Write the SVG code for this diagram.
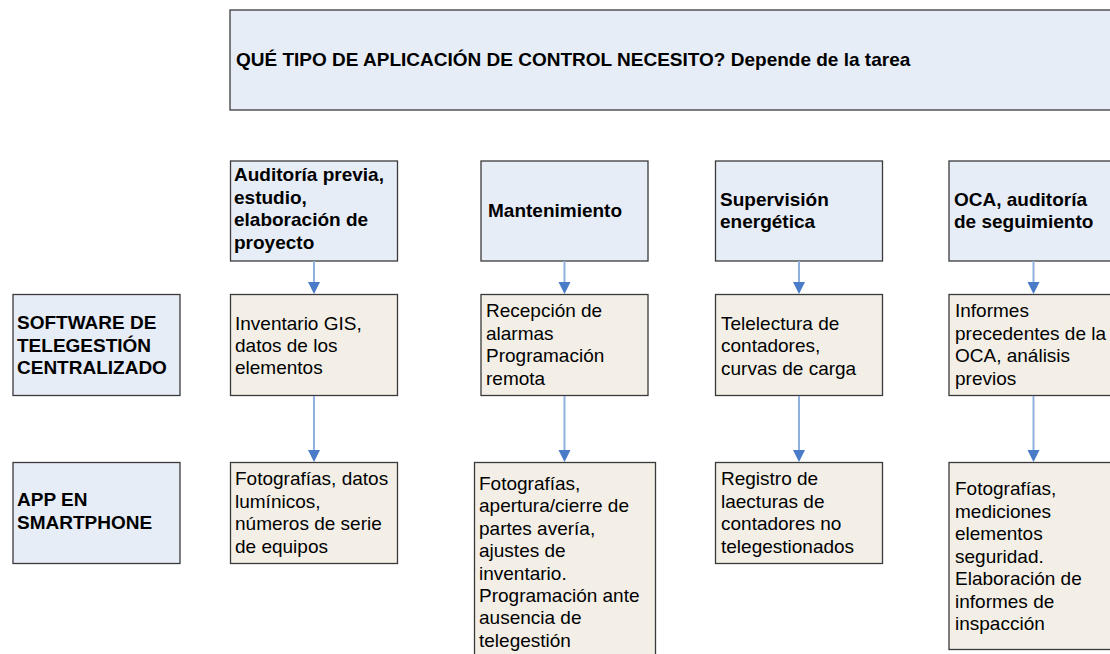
<svg xmlns="http://www.w3.org/2000/svg" width="1110" height="654" viewBox="0 0 1110 654">
<style>
  .blue { fill: #e7edf7; stroke: #3a3a3a; stroke-width: 1.3; }
  .beige { fill: #f3efe7; stroke: #3a3a3a; stroke-width: 1.3; }
  text { font-family: "Liberation Sans", Arial, sans-serif; font-size: 19px; fill: #000; }
  .b { font-weight: bold; }
  .conn { stroke: #8eb0de; stroke-width: 2; fill: none; }
  .head { fill: #4a7bc8; }
</style>
<rect x="0" y="0" width="1110" height="654" fill="#ffffff"/>
<g id="header">
  <rect class="blue" x="230" y="10" width="890" height="100"/>
  <text class="b" x="236" y="66">QUÉ TIPO DE APLICACIÓN DE CONTROL NECESITO? Depende de la tarea</text>
</g>
<g id="row-software">
  <rect class="blue" x="13" y="294.5" width="167" height="101"/>
  <text class="b" x="17"><tspan x="17" y="329">SOFTWARE DE</tspan><tspan x="17" y="351.5">TELEGESTIÓN</tspan><tspan x="17" y="374">CENTRALIZADO</tspan></text>
</g>
<g id="row-app">
  <rect class="blue" x="13" y="462.5" width="167" height="101"/>
  <text class="b" x="17"><tspan x="17" y="506">APP EN</tspan><tspan x="17" y="529">SMARTPHONE</tspan></text>
</g>
<g id="col1-head">
  <rect class="blue" x="230.5" y="161" width="167" height="100"/>
  <text class="b"><tspan x="234" y="181">Auditoría previa,</tspan><tspan x="234" y="203.5">estudio,</tspan><tspan x="234" y="226">elaboración de</tspan><tspan x="234" y="248.5">proyecto</tspan></text>
</g>
<g id="col2-head">
  <rect class="blue" x="481" y="161" width="167" height="100"/>
  <text class="b" x="488" y="217">Mantenimiento</text>
</g>
<g id="col3-head">
  <rect class="blue" x="715.5" y="161" width="167" height="100"/>
  <text class="b"><tspan x="720" y="205.5">Supervisión</tspan><tspan x="720" y="228">energética</tspan></text>
</g>
<g id="col4-head">
  <rect class="blue" x="949" y="161" width="167" height="100"/>
  <text class="b"><tspan x="954" y="205.5">OCA, auditoría</tspan><tspan x="954" y="228">de seguimiento</tspan></text>
</g>
<g id="col1-software">
  <rect class="beige" x="230.5" y="294.5" width="167" height="101"/>
  <text><tspan x="235" y="330">Inventario GIS,</tspan><tspan x="235" y="352">datos de los</tspan><tspan x="235" y="374">elementos</tspan></text>
</g>
<g id="col2-software">
  <rect class="beige" x="481" y="294.5" width="167" height="101"/>
  <text><tspan x="486" y="317">Recepción de</tspan><tspan x="486" y="339.5">alarmas</tspan><tspan x="486" y="362">Programación</tspan><tspan x="486" y="384.5">remota</tspan></text>
</g>
<g id="col3-software">
  <rect class="beige" x="715.5" y="294.5" width="167" height="101"/>
  <text><tspan x="721" y="329.5">Telelectura de</tspan><tspan x="721" y="352">contadores,</tspan><tspan x="721" y="374.5">curvas de carga</tspan></text>
</g>
<g id="col4-software">
  <rect class="beige" x="949" y="294.5" width="167" height="101"/>
  <text><tspan x="955" y="317">Informes</tspan><tspan x="955" y="339.5">precedentes de la</tspan><tspan x="955" y="362">OCA, análisis</tspan><tspan x="955" y="384.5">previos</tspan></text>
</g>
<g id="col1-app">
  <rect class="beige" x="230.5" y="462.5" width="167" height="101"/>
  <text><tspan x="235" y="485">Fotografías, datos</tspan><tspan x="235" y="507.5">lumínicos,</tspan><tspan x="235" y="530">números de serie</tspan><tspan x="235" y="552.5">de equipos</tspan></text>
</g>
<g id="col2-app">
  <rect class="beige" x="474.5" y="462.5" width="181" height="200"/>
  <text><tspan x="479" y="490">Fotografías,</tspan><tspan x="479" y="512.4">apertura/cierre de</tspan><tspan x="479" y="534.8">partes avería,</tspan><tspan x="479" y="557.2">ajustes de</tspan><tspan x="479" y="579.6">inventario.</tspan><tspan x="479" y="602">Programación ante</tspan><tspan x="479" y="624.4">ausencia de</tspan><tspan x="479" y="646.8">telegestión</tspan></text>
</g>
<g id="col3-app">
  <rect class="beige" x="715.5" y="462.5" width="167" height="101"/>
  <text><tspan x="721" y="485">Registro de</tspan><tspan x="721" y="507.5">laecturas de</tspan><tspan x="721" y="530">contadores no</tspan><tspan x="721" y="552.5">telegestionados</tspan></text>
</g>
<g id="col4-app">
  <rect class="beige" x="949" y="462.5" width="167" height="187"/>
  <text><tspan x="955" y="495">Fotografías,</tspan><tspan x="955" y="517.5">mediciones</tspan><tspan x="955" y="540">elementos</tspan><tspan x="955" y="562.5">seguridad.</tspan><tspan x="955" y="585">Elaboración de</tspan><tspan x="955" y="607.5">informes de</tspan><tspan x="955" y="630">inspacción</tspan></text>
</g>
<g id="connectors">
  <line class="conn" x1="314" y1="261" x2="314" y2="283"/>
  <polygon class="head" points="308,282 320,282 314,294"/>
  <line class="conn" x1="564.5" y1="261" x2="564.5" y2="283"/>
  <polygon class="head" points="558.5,282 570.5,282 564.5,294"/>
  <line class="conn" x1="799" y1="261" x2="799" y2="283"/>
  <polygon class="head" points="793,282 805,282 799,294"/>
  <line class="conn" x1="1033.5" y1="261" x2="1033.5" y2="283"/>
  <polygon class="head" points="1027.5,282 1039.5,282 1033.5,294"/>
  <line class="conn" x1="314" y1="396" x2="314" y2="451"/>
  <polygon class="head" points="308,450 320,450 314,462"/>
  <line class="conn" x1="564.5" y1="396" x2="564.5" y2="451"/>
  <polygon class="head" points="558.5,450 570.5,450 564.5,462"/>
  <line class="conn" x1="799" y1="396" x2="799" y2="451"/>
  <polygon class="head" points="793,450 805,450 799,462"/>
  <line class="conn" x1="1033.5" y1="396" x2="1033.5" y2="451"/>
  <polygon class="head" points="1027.5,450 1039.5,450 1033.5,462"/>
</g>
</svg>
